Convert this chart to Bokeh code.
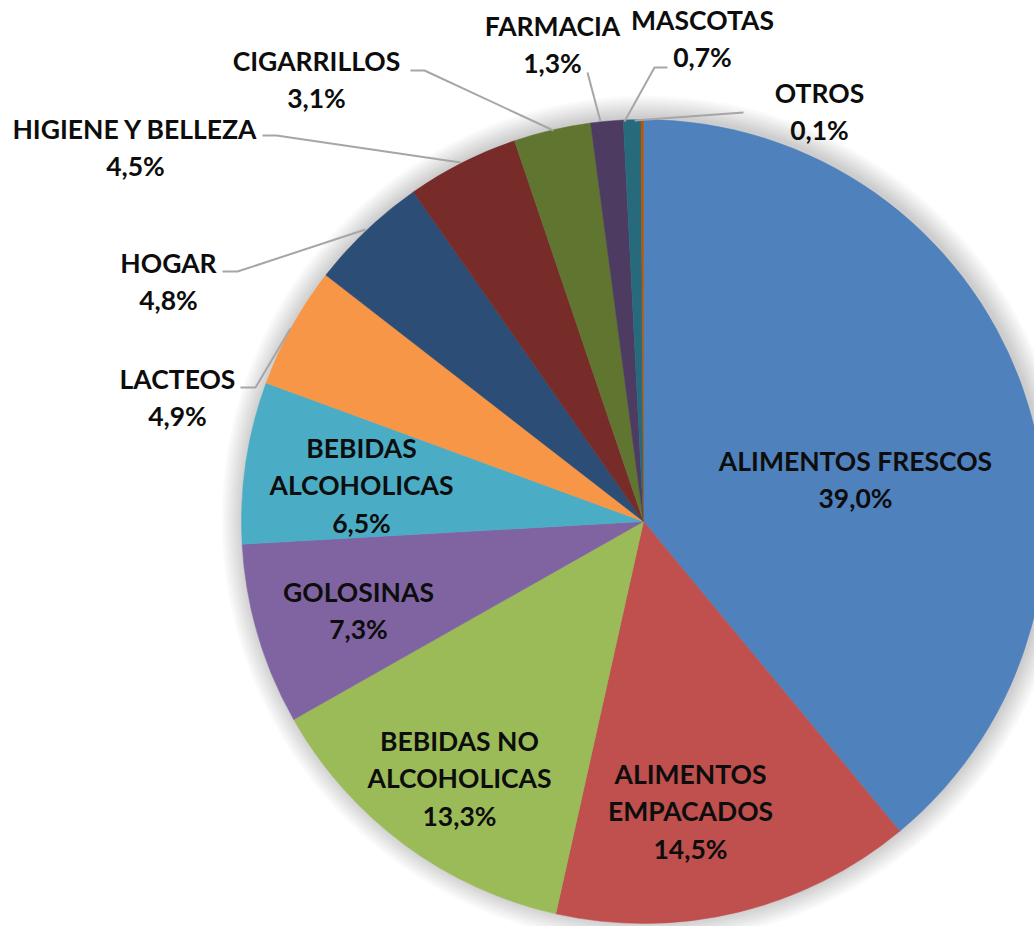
import math
from bokeh.plotting import figure
from bokeh.models import Range1d
from bokeh.core.properties import value
from bokeh.embed import file_html
from bokeh.resources import INLINE

# ---- data ----
categories = ["ALIMENTOS FRESCOS", "ALIMENTOS EMPACADOS", "BEBIDAS NO ALCOHOLICAS",
              "GOLOSINAS", "BEBIDAS ALCOHOLICAS", "LACTEOS", "HOGAR",
              "HIGIENE Y BELLEZA", "CIGARRILLOS", "FARMACIA", "MASCOTAS", "OTROS"]
shares = [39.0, 14.5, 13.3, 7.3, 6.5, 4.9, 4.8, 4.5, 3.1, 1.3, 0.7, 0.1]

# ---- style / layout ----
colors = ["#4F81BD", "#C0504D", "#9BBB59", "#8064A2", "#4BACC6", "#F79646",
          "#2C4D75", "#772C2A", "#5F7530", "#4D3B62", "#276A7C", "#B65708"]
W, H = 1034, 926
CX, CY, R = 643, 521, 402          # pixel coords (y down)
wrap = {"ALIMENTOS EMPACADOS": ["ALIMENTOS", "EMPACADOS"],
        "BEBIDAS NO ALCOHOLICAS": ["BEBIDAS NO", "ALCOHOLICAS"],
        "BEBIDAS ALCOHOLICAS": ["BEBIDAS", "ALCOHOLICAS"]}
label_anchor = [(855, 460), (690, 773), (459, 740), (358, 591), (361, 447),
                (177, 378), (168, 262), (135, 128), (316, 60), (552, 25),
                (702, 19), (819, 92)]
line_gap = 37.5
leaders = {
    "LACTEOS": [(240, 387), (255, 387), (290, 328)],
    "HOGAR": [(222, 271), (237, 271), (365, 229)],
    "HIGIENE Y BELLEZA": [(262, 135), (276, 135), (460, 162)],
    "CIGARRILLOS": [(410, 70), (424, 70), (553, 130)],
    "FARMACIA": [(587, 72), (600, 121)],
    "MASCOTAS": [(667, 67), (654, 67), (624, 121)],
    "OTROS": [(743, 112), (634, 120)],
}

def fy(py):
    return H - py

p = figure(width=W, height=H, output_backend="svg", toolbar_location=None,
           x_range=Range1d(0, W), y_range=Range1d(0, H), min_border=0)
p.axis.visible = False
p.grid.visible = False
p.outline_line_color = None
p.background_fill_color = "white"

# soft shadow
for k in range(10):
    p.circle(x=CX + 2, y=fy(CY - 2), radius=R + 2 + k * 2.2,
             fill_color="black", fill_alpha=0.018, line_color=None)

# wedges (clockwise from 12 o'clock)
total = sum(shares)
cum = 0.0
for v, c in zip(shares, colors):
    a0 = math.pi / 2 - 2 * math.pi * (cum + v) / total
    a1 = math.pi / 2 - 2 * math.pi * cum / total
    p.wedge(x=CX, y=fy(CY), radius=R, start_angle=a0, end_angle=a1,
            fill_color=c, line_color=c, line_width=0.5)
    cum += v

# leader lines
for name, pts in leaders.items():
    p.line([q[0] for q in pts], [fy(q[1]) for q in pts],
           line_color="#A6A6A6", line_width=2)

# labels
xs, ys, ts = [], [], []
for name, v, (ax, ay) in zip(categories, shares, label_anchor):
    lines = wrap.get(name, [name]) + [f"{v:.1f}%".replace(".", ",")]
    for i, t in enumerate(lines):
        xs.append(ax)
        ys.append(fy(ay + i * line_gap))
        ts.append(t)
p.text(x=xs, y=ys, text=ts, text_font=value("Lato"), text_font_style="bold",
       text_font_size="26.5px", text_align="center", text_baseline="middle",
       text_color="#0D0D0D")

open("out.html", "w").write(file_html(p, INLINE))
